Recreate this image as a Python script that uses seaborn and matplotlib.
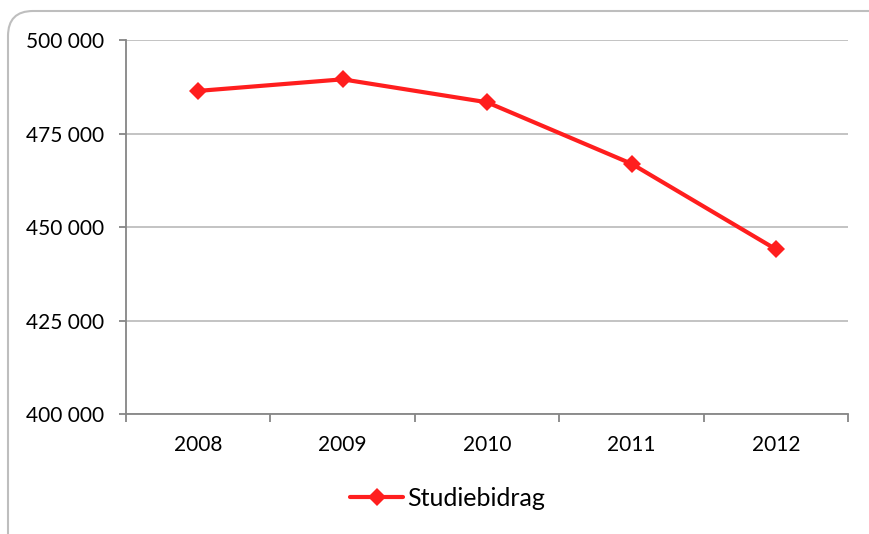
import pandas as pd
import matplotlib.pyplot as plt
import seaborn as sns
from matplotlib.patches import FancyBboxPatch
from matplotlib.ticker import FuncFormatter

years = ['2008', '2009', '2010', '2011', '2012']
studiebidrag = [486500, 489600, 483450, 467000, 444100]
yticks = [400000, 425000, 450000, 475000, 500000]
series_name = 'Studiebidrag'

def main():
    df = pd.DataFrame({'year': years, 'value': studiebidrag, 'serie': series_name})

    sns.set_style('white')
    plt.rcParams['font.family'] = ['Lato', 'DejaVu Sans']
    plt.rcParams['text.color'] = 'black'
    plt.rcParams['xtick.color'] = 'black'
    plt.rcParams['ytick.color'] = 'black'

    fig = plt.figure(figsize=(8.69, 5.34), dpi=100)
    ax = fig.add_axes([0.145, 0.2247, 0.831, 0.6995])

    sns.lineplot(data=df, x='year', y='value', hue='serie', palette=['#FF1E1E'],
                 marker='D', markersize=9, markeredgewidth=0, linewidth=3, ax=ax)

    ax.set_ylim(400000, 500000)
    ax.set_yticks(yticks)
    ax.yaxis.set_major_formatter(FuncFormatter(lambda v, p: '{:,.0f}'.format(v).replace(',', ' ')))
    ax.set_xlim(-0.5, len(years) - 0.5)
    ax.set_xticks(range(len(years)))
    ax.set_xticklabels(years)
    ax.set_xticks([i - 0.5 for i in range(len(years) + 1)], minor=True)

    ax.grid(axis='y', color='#BEBEBE', linewidth=1.3)
    ax.set_axisbelow(True)
    for s in ['top', 'right']:
        ax.spines[s].set_visible(False)
    for s in ['left', 'bottom']:
        ax.spines[s].set_color('#868686')
        ax.spines[s].set_linewidth(1.3)

    ax.tick_params(axis='y', which='major', left=True, length=5, width=1.3, color='#868686',
                   labelsize=15, pad=11)
    ax.tick_params(axis='x', which='major', bottom=False, length=0, labelsize=15, pad=15)
    ax.tick_params(axis='x', which='minor', bottom=True, length=6, width=1.3, color='#868686')
    ax.set_xlabel('')
    ax.set_ylabel('')

    ax.legend(loc='center', bbox_to_anchor=(0.515, 0.067), bbox_transform=fig.transFigure,
              frameon=False, fontsize=18, handlelength=2.1, handletextpad=0.15)

    fig.patches.append(FancyBboxPatch((8, -30), 900, 553,
                                      boxstyle='round,pad=0,rounding_size=25',
                                      transform=None, facecolor='none',
                                      edgecolor='#BEBEBE', linewidth=1.5, zorder=-1))

    fig.savefig('out.png', dpi=100)

if __name__ == '__main__':
    main()
